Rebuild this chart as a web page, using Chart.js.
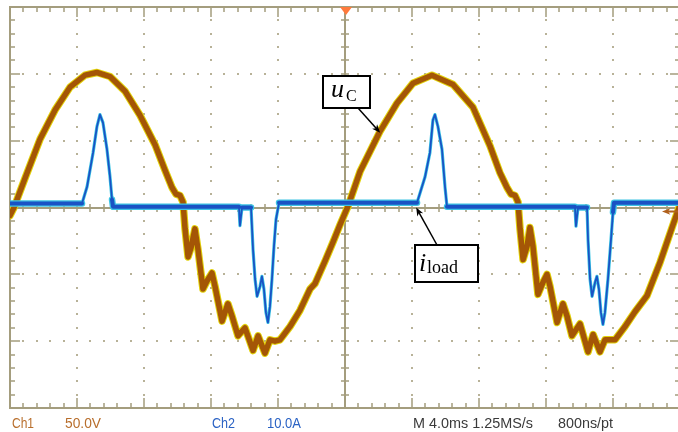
<!DOCTYPE html>
<html>
<head>
<meta charset="utf-8">
<script src="https://cdn.jsdelivr.net/npm/chart.js@4.4.0/dist/chart.umd.min.js"></script>
<style>
  html, body { margin: 0; padding: 0; background: #fff; overflow: hidden; }
  #wrap { position: relative; width: 690px; height: 432px; }
</style>
</head>
<body>
<div id="wrap"><canvas id="scope"></canvas></div>
<script>
// Ch1: capacitor voltage u_C (ms, V) - 50 V/div, 4 ms/div
const ch1Time = [0, 0.24, 0.90, 1.79, 2.69, 3.58, 4.48, 5.19, 5.97, 6.87, 7.76, 8.66, 9.25, 9.67, 9.91, 10.15, 10.33,
  10.45, 10.63, 10.81, 11.04, 11.22, 11.52, 11.76, 12.06, 12.24, 12.66, 13.01, 13.25, 13.61, 14.03, 14.51, 14.81,
  15.22, 15.52, 15.82, 16.12, 16.72, 17.31, 17.91, 18.21, 18.81, 19.28, 19.70, 20.18, 20.90, 22.09, 23.10, 24.06,
  25.19, 26.45, 27.64, 28.66, 29.25, 29.67, 29.91, 30.15, 30.33, 30.45, 30.63, 30.87, 31.04, 31.22, 31.52, 31.82,
  32.06, 32.24, 32.66, 33.01, 33.25, 33.55, 34.03, 34.51, 34.81, 35.22, 35.52, 36.12, 36.72, 37.31, 38.03, 38.81,
  39.58, 40.0]
const ch1Volt = [-6, 0, 22, 51, 73, 90, 99, 101, 98, 87, 69, 47, 28, 15, 10, 9, 4,
  -16, -37, -30, -16, -31, -61, -55, -49, -59, -85, -72, -81, -96, -90, -107, -96,
  -109, -99, -100, -99, -89, -77, -61, -57, -40, -26, -13, 1, 27, 57, 78, 93,
  99, 92, 75, 46, 26, 15, 10, 9, 4, -16, -39, -29, -15, -29, -65, -56,
  -50, -59, -86, -72, -81, -96, -87, -108, -95, -108, -99, -99, -89, -78, -66, -41,
  -13, 2]

// Ch2: load current i_load (ms, A) - 10 A/div
const ch2Time = [0, 4.30, 4.60, 4.96, 5.19, 5.37, 5.55, 5.79, 5.97, 6.09, 6.15, 13.67, 13.73, 13.85, 14.39,
  14.51, 14.63, 14.75, 14.93, 15.04, 15.16, 15.28, 15.40, 15.52, 15.64, 15.76, 15.88, 16.06, 24.30, 24.78,
  25.07, 25.25, 25.37, 25.55, 25.79, 25.97, 26.09, 33.73, 33.79, 33.91, 34.45, 34.51, 34.63, 34.75, 34.93,
  35.04, 35.16, 35.28, 35.40, 35.52, 35.70, 35.88, 36.00, 36.06, 40.0]
const ch2Amp = [0.6, 0.6, 3.1, 8.2, 12.1, 13.9, 12.7, 8.7, 4.6, 1.2, 0.1, 0.1, -2.7, 0, 0,
  -6.3, -10.7, -13.3, -11.8, -10.3, -12.2, -15.7, -17.2, -14.8, -10.7, -5.8, -1.8, 0.7, 0.7, 4.6,
  8.2, 13.1, 13.9, 12.1, 8.7, 3.1, 0.1, 0.1, -2.8, 0, 0, -4.8, -10.7, -13.3, -11.2,
  -10.3, -12.2, -15.7, -17.5, -15.7, -10.7, -4.8, -0.7, 0.7, 0.7]

const statusLabels = [
  { text: "Ch1", x: 12, w: 22, color: "#b86e2c" },
  { text: "50.0V", x: 65, w: 36, color: "#b86e2c" },
  { text: "Ch2", x: 212, w: 23, color: "#2a62c4" },
  { text: "10.0A", x: 267, w: 34, color: "#2a62c4" },
  { text: "M 4.0ms 1.25MS/s", x: 413, w: 120, color: "#3a3a3a" },
  { text: "800ns/pt", x: 558, w: 55, color: "#3a3a3a" },
]

const gridColor = "#a49d7e"
const ch1Points = ch1Time.map((t, i) => ({ x: t, y: ch1Volt[i] }))
const ch2Points = ch2Time.map((t, i) => ({ x: t, y: ch2Amp[i] }))

function arrow(ctx, x0, y0, x1, y1) {
  const ang = Math.atan2(y1 - y0, x1 - x0)
  ctx.beginPath()
  ctx.moveTo(x0, y0)
  ctx.lineTo(x1 - 5 * Math.cos(ang), y1 - 5 * Math.sin(ang))
  ctx.stroke()
  ctx.beginPath()
  ctx.moveTo(x1, y1)
  ctx.lineTo(x1 - 9 * Math.cos(ang - 0.38), y1 - 9 * Math.sin(ang - 0.38))
  ctx.lineTo(x1 - 6 * Math.cos(ang), y1 - 6 * Math.sin(ang))
  ctx.lineTo(x1 - 9 * Math.cos(ang + 0.38), y1 - 9 * Math.sin(ang + 0.38))
  ctx.closePath()
  ctx.fill()
}

// oscilloscope graticule: dotted majors, solid border and centre lines with ticks
const scopeGrid = {
  id: "scopeGrid",
  beforeDatasetsDraw(chart) {
    const { ctx, chartArea: a, scales: { x, y } } = chart
    ctx.save()
    ctx.fillStyle = "#b8b298"
    for (let i = 1; i < 10; i++) {
      if (i === 5) continue
      const px = Math.round(x.getPixelForValue(i * 4))
      for (let k = 0; k <= 30; k++) {
        const py = Math.round(y.getPixelForValue(-150 + k * 10))
        ctx.fillRect(px - 1, py - 1, 2, 2)
      }
    }
    for (let j = -2; j <= 2; j++) {
      if (j === 0) continue
      const py = Math.round(y.getPixelForValue(j * 50))
      for (let k = 0; k <= 50; k++) {
        const px = Math.round(x.getPixelForValue(k * 0.8))
        ctx.fillRect(px - 1, py - 1, 2, 2)
      }
    }
    ctx.strokeStyle = gridColor
    ctx.lineWidth = 2
    ctx.strokeRect(a.left, a.top, a.right - a.left, a.bottom - a.top)
    const cx = Math.round(x.getPixelForValue(20))
    const cy = Math.round(y.getPixelForValue(0))
    ctx.beginPath()
    ctx.moveTo(cx, a.top); ctx.lineTo(cx, a.bottom)
    ctx.moveTo(a.left, cy); ctx.lineTo(a.right, cy)
    ctx.stroke()
    ctx.lineWidth = 1.5
    ctx.beginPath()
    for (let k = 0; k <= 50; k++) {
      const px = Math.round(x.getPixelForValue(k * 0.8))
      const len = k % 5 === 0 ? 10 : 5
      ctx.moveTo(px, a.top); ctx.lineTo(px, a.top + len)
      ctx.moveTo(px, a.bottom); ctx.lineTo(px, a.bottom - len)
      ctx.moveTo(px, cy - 4); ctx.lineTo(px, cy + 4)
    }
    for (let k = 0; k <= 30; k++) {
      const py = Math.round(y.getPixelForValue(-150 + k * 10))
      const len = k % 5 === 0 ? 10 : 5
      ctx.moveTo(a.left, py); ctx.lineTo(a.left + len, py)
      ctx.moveTo(a.right, py); ctx.lineTo(a.right - len, py)
      ctx.moveTo(cx - 4, py); ctx.lineTo(cx + 4, py)
    }
    ctx.stroke()
    ctx.restore()
  },
  afterDatasetsDraw(chart) {
    const { ctx, chartArea: a, scales: { x, y, y2 } } = chart
    ctx.save()
    // trigger marker
    const tx = x.getPixelForValue(20) + 1
    ctx.fillStyle = "#ff7a3c"
    ctx.beginPath()
    ctx.moveTo(tx - 6, a.top); ctx.lineTo(tx + 6, a.top); ctx.lineTo(tx, a.top + 8)
    ctx.closePath(); ctx.fill()
    // ch1 ground marker
    const gy = y.getPixelForValue(-3)
    ctx.strokeStyle = "#b0601c"; ctx.fillStyle = "#b0601c"; ctx.lineWidth = 2
    arrow(ctx, a.right, gy, a.right - 18, gy)

    // annotations
    ctx.strokeStyle = "#000"; ctx.fillStyle = "#000"; ctx.lineWidth = 1.5
    const uT = { x: x.getPixelForValue(22.1), y: y.getPixelForValue(56) }
    arrow(ctx, 358, 108, uT.x, uT.y)
    const iT = { x: x.getPixelForValue(24.25), y: y2.getPixelForValue(0) }
    arrow(ctx, 437, 245, iT.x, iT.y)

    ctx.lineWidth = 2
    ctx.fillStyle = "#fff"
    ctx.fillRect(323, 76, 47, 32); ctx.strokeRect(323, 76, 47, 32)
    ctx.fillRect(415, 245, 63, 37); ctx.strokeRect(415, 245, 63, 37)
    ctx.fillStyle = "#000"
    ctx.textBaseline = "alphabetic"
    ctx.font = "italic 26px 'Liberation Serif'"
    ctx.fillText("u", 331, 97)
    ctx.font = "16px 'Liberation Serif'"
    ctx.fillText("C", 346, 101)
    ctx.font = "italic 26px 'Liberation Serif'"
    ctx.fillText("i", 419, 271)
    ctx.font = "18px 'Liberation Serif'"
    ctx.fillText("load", 427, 273)

    // status line
    ctx.font = "15px 'Liberation Sans'"
    statusLabels.forEach(l => {
      ctx.fillStyle = l.color
      ctx.fillText(l.text, l.x, 428, l.w)
    })
    ctx.restore()
  },
}

new Chart(document.getElementById("scope"), {
  type: "line",
  data: {
    datasets: [
      {
        data: ch2Points, yAxisID: "y2", order: 1,
        borderColor: "#1a52c4",
        segment: { borderWidth: c => (Math.abs(c.p0.parsed.y) < 1.5 && Math.abs(c.p1.parsed.y) < 1.5 ? 4 : 1.8) },
      },
      {
        data: ch2Points, yAxisID: "y2", order: 2,
        borderColor: "#3cc4e4",
        segment: { borderWidth: c => (Math.abs(c.p0.parsed.y) < 1.5 && Math.abs(c.p1.parsed.y) < 1.5 ? 6.5 : 3.2) },
      },
      { data: ch1Points, yAxisID: "y", order: 3, borderColor: "#a45606", borderWidth: 5.5 },
      { data: ch1Points, yAxisID: "y", order: 4, borderColor: "#e2d20a", borderWidth: 7.5 },
    ],
  },
  options: {
    responsive: true,
    maintainAspectRatio: false,
    devicePixelRatio: 1,
    animation: false,
    layout: { padding: { left: 10, top: 7, right: 10, bottom: 24 } },
    elements: {
      point: { radius: 0 },
      line: { tension: 0, borderJoinStyle: "round", borderCapStyle: "round" },
    },
    scales: {
      x: { type: "linear", min: 0, max: 40, display: false },
      y: { min: -150, max: 150, display: false },
      y2: { min: -30, max: 30, display: false },
    },
    plugins: { legend: { display: false }, tooltip: { enabled: false } },
  },
  plugins: [scopeGrid],
})
</script>
</body>
</html>
